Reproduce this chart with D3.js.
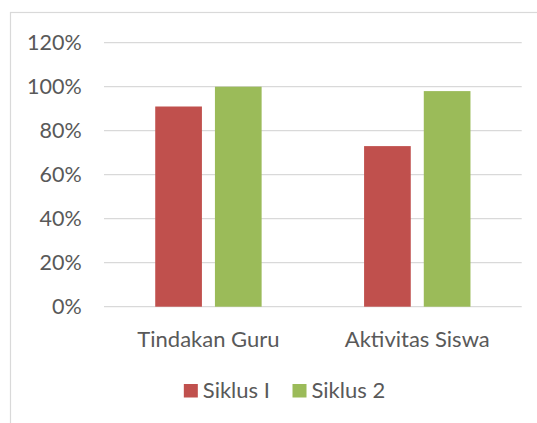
<!DOCTYPE html>
<html>
<head>
<meta charset="utf-8">
<script src="https://cdn.jsdelivr.net/npm/d3@7"></script>
<style>
  html, body { margin: 0; padding: 0; background: #fff; }
  text { font-family: Lato, "Open Sans", sans-serif; fill: #595959; }
</style>
</head>
<body>
<div id="chart"></div>
<script>
// categories and series
const categories = ["Tindakan Guru", "Aktivitas Siswa"];
const seriesNames = ["Siklus I", "Siklus 2"];
const siklus1 = [0.91, 0.73];
const siklus2 = [1.00, 0.98];
const yTicks = [0, 0.2, 0.4, 0.6, 0.8, 1.0, 1.2];

const colors = ["#C0504D", "#9BBB59"];

const width = 537, height = 423;
const plot = { left: 104, right: 521.7, top: 42.7, bottom: 306.7 };

const svg = d3.select("#chart")
  .append("svg")
  .attr("width", width)
  .attr("height", height);

svg.append("rect")
  .attr("width", width).attr("height", height)
  .attr("fill", "#fff");

// chart area border (runs off the right and bottom edge)
svg.append("rect")
  .attr("x", 10.5).attr("y", 12.5)
  .attr("width", 600).attr("height", 500)
  .attr("fill", "none")
  .attr("stroke", "#d9d9d9")
  .attr("stroke-width", 1.2);

const x0 = d3.scaleBand()
  .domain(categories)
  .range([plot.left, plot.right]);

const x1 = d3.scaleBand()
  .domain(seriesNames)
  .range([0, x0.bandwidth()])
  .paddingInner(0.218)
  .paddingOuter(0.858);

const y = d3.scaleLinear()
  .domain([0, 1.2])
  .range([plot.bottom, plot.top]);

// gridlines
svg.append("g")
  .selectAll("line")
  .data(yTicks)
  .enter().append("line")
  .attr("x1", plot.left).attr("x2", plot.right)
  .attr("y1", d => y(d)).attr("y2", d => y(d))
  .attr("stroke", "#d9d9d9")
  .attr("stroke-width", 1.3);

// y axis labels
const fmt = d3.format(".0%");
svg.append("g")
  .selectAll("text")
  .data(yTicks)
  .enter().append("text")
  .attr("x", 81.7)
  .attr("y", d => y(d))
  .attr("dy", "0.35em")
  .attr("text-anchor", "end")
  .style("font-size", "21.5px")
  .text(d => fmt(d));

// bars
const rows = categories.map((c, i) => ({ cat: c, values: [siklus1[i], siklus2[i]] }));

const groups = svg.selectAll("g.cat")
  .data(rows)
  .enter().append("g")
  .attr("class", "cat")
  .attr("transform", d => "translate(" + x0(d.cat) + ",0)");

groups.selectAll("rect")
  .data(d => d.values.map((v, i) => ({ key: seriesNames[i], value: v, i: i })))
  .enter().append("rect")
  .attr("x", d => x1(d.key))
  .attr("width", x1.bandwidth())
  .attr("y", d => y(d.value))
  .attr("height", d => y(0) - y(d.value))
  .attr("fill", d => colors[d.i]);

// category labels
svg.append("g")
  .selectAll("text")
  .data(categories)
  .enter().append("text")
  .attr("x", d => x0(d) + x0.bandwidth() / 2)
  .attr("y", 346.7)
  .attr("text-anchor", "middle")
  .style("font-size", "22px")
  .text(d => d);

// legend, centred under the chart area
const legend = svg.append("g");
let lx = 0;
seriesNames.forEach((name, i) => {
  const item = legend.append("g").attr("transform", "translate(" + lx + ",0)");
  item.append("rect")
    .attr("x", 0).attr("y", 384)
    .attr("width", 14).attr("height", 13.5)
    .attr("fill", colors[i]);
  const t = item.append("text")
    .attr("x", 19).attr("y", 398)
    .style("font-size", "22px")
    .text(name);
  lx += 19 + t.node().getComputedTextLength() + 22.6;
});
const legendWidth = lx - 22.6;
legend.attr("transform", "translate(" + (284.5 - legendWidth / 2) + ",0)");
</script>
</body>
</html>
